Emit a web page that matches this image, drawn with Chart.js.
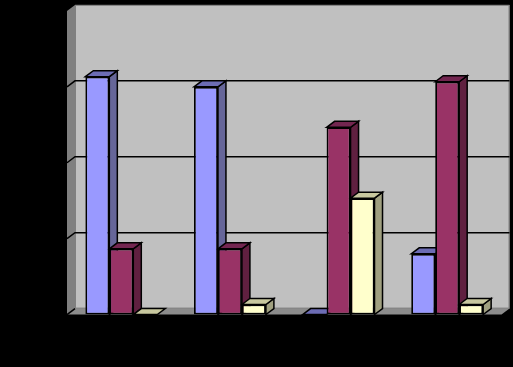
<!DOCTYPE html>
<html>
<head>
<meta charset="utf-8">
<style>html,body{margin:0;padding:0;background:#000;overflow:hidden}canvas{display:block}</style>
<script src="https://cdn.jsdelivr.net/npm/chart.js@4"></script>
</head>
<body>
<canvas id="c" width="513" height="367"></canvas>
<script>
const categories = ['1', '2', '3', '4'];
const seriesA = [47, 45, 0, 12];
const seriesB = [13, 13, 37, 46];
const seriesC = [0, 2, 23, 2];
const yTicks = [0, 15, 30, 45, 60];

const DX = 8, DY = -6;
const fronts = ['#9999FF', '#993366', '#FFFFCC'];
const tops = ['#6C6CB4', '#732650', '#C8C89F'];
const sides = ['#666699', '#602040', '#A0A080'];

function poly(ctx, pts, fill) {
  ctx.beginPath();
  pts.forEach((p, i) => i ? ctx.lineTo(p[0], p[1]) : ctx.moveTo(p[0], p[1]));
  ctx.closePath();
  ctx.fillStyle = fill;
  ctx.fill();
  ctx.strokeStyle = '#000';
  ctx.lineWidth = 1.5;
  ctx.stroke();
}

const threeD = {
  id: 'threeD',
  beforeDatasetsDraw(chart) {
    const ctx = chart.ctx;
    const a = chart.chartArea;
    const y = chart.scales.y;
    ctx.save();
    // left wall
    ctx.beginPath();
    ctx.moveTo(a.left, a.top); ctx.lineTo(a.left + DX, a.top + DY);
    ctx.lineTo(a.left + DX, a.bottom + DY); ctx.lineTo(a.left, a.bottom); ctx.closePath();
    ctx.fillStyle = '#808080'; ctx.fill();
    // floor
    ctx.beginPath();
    ctx.moveTo(a.left, a.bottom); ctx.lineTo(a.left + DX, a.bottom + DY);
    ctx.lineTo(a.right + DX, a.bottom + DY); ctx.lineTo(a.right, a.bottom); ctx.closePath();
    ctx.fillStyle = '#8C8C8C'; ctx.fill();
    // back wall
    ctx.fillStyle = '#C0C0C0';
    ctx.fillRect(a.left + DX, a.top + DY, a.right - a.left, a.bottom - a.top);
    ctx.strokeStyle = '#808080'; ctx.lineWidth = 1;
    ctx.strokeRect(a.left + DX + 0.5, a.top + DY + 0.5, a.right - a.left - 1, a.bottom - a.top - 1);
    // gridlines on both walls
    ctx.strokeStyle = '#000'; ctx.lineWidth = 1.5;
    yTicks.slice(1, -1).forEach(v => {
      const py = y.getPixelForValue(v);
      ctx.beginPath();
      ctx.moveTo(a.left, py);
      ctx.lineTo(a.left + DX, py + DY);
      ctx.lineTo(a.right + DX, py + DY);
      ctx.stroke();
    });
    ctx.beginPath();
    ctx.moveTo(a.left, a.bottom);
    ctx.lineTo(a.left + DX, a.bottom + DY);
    ctx.stroke();
    // top and side faces of every bar, left to right
    categories.forEach((_, i) => {
      chart.data.datasets.forEach((ds, d) => {
        const el = chart.getDatasetMeta(d).data[i];
        const l = el.x - el.width / 2, r = el.x + el.width / 2, t = el.y, b = el.base;
        if (b - t > 0) poly(ctx, [[r, t], [r + DX, t + DY], [r + DX, b + DY], [r, b]], sides[d]);
        poly(ctx, [[l, t], [l + DX, t + DY], [r + DX, t + DY], [r, t]], tops[d]);
      });
    });
    ctx.restore();
  }
};

new Chart(document.getElementById('c'), {
  type: 'bar',
  data: {
    labels: categories,
    datasets: [seriesA, seriesB, seriesC].map((data, d) => ({
      data,
      backgroundColor: fronts[d],
      borderColor: '#000',
      borderWidth: 1.8,
      borderSkipped: false,
      categoryPercentage: 0.662,
      barPercentage: 1
    }))
  },
  options: {
    responsive: false,
    animation: false,
    layout: { padding: { left: 67, right: 11.5, top: 10.9, bottom: 52.4 } },
    plugins: { legend: { display: false }, title: { display: false }, tooltip: { enabled: false } },
    scales: {
      x: { display: false, grid: { display: false } },
      y: { display: false, min: 0, max: 60, grid: { display: false } }
    }
  },
  plugins: [threeD]
});
</script>
</body>
</html>
